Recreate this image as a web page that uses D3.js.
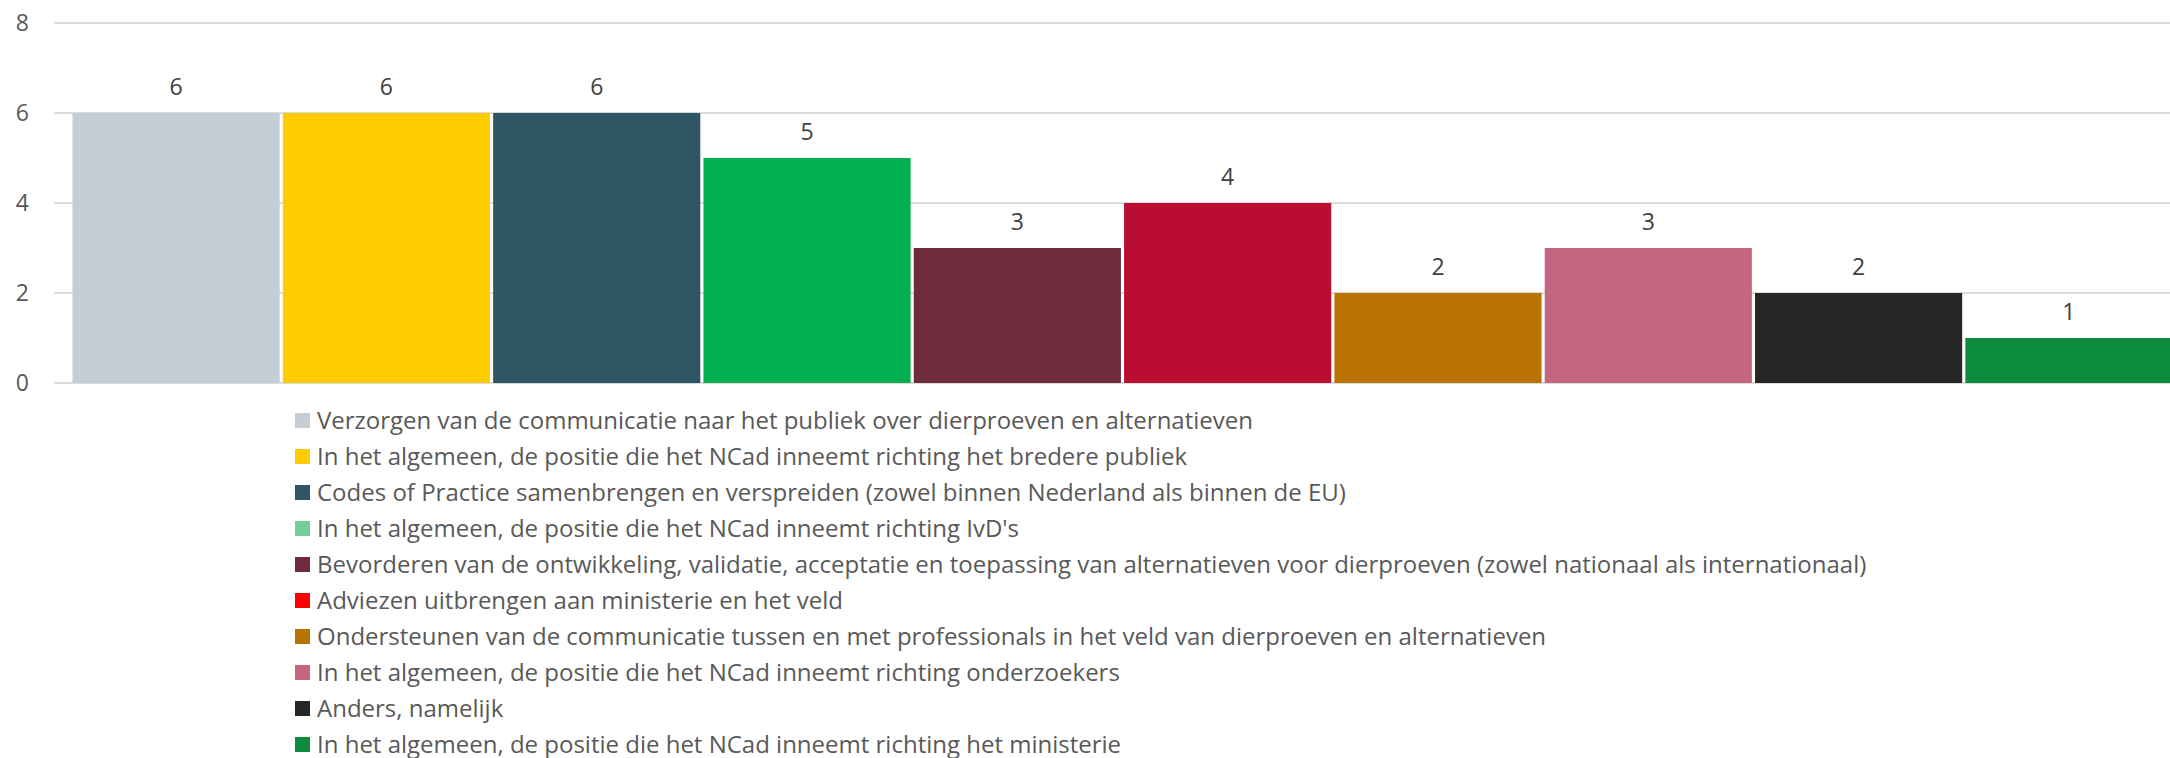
<!DOCTYPE html>
<html>
<head>
<meta charset="utf-8">
<script src="https://cdn.jsdelivr.net/npm/d3@7"></script>
<style>
  body { margin: 0; background: #fff; }
  svg { display: block; font-family: "Open Sans", sans-serif; }
</style>
</head>
<body>
<svg id="chart" width="2170" height="758"></svg>
<script>
// Data
const categories = [
  "Verzorgen van de communicatie naar het publiek over dierproeven en alternatieven",
  "In het algemeen, de positie die het NCad inneemt richting het bredere publiek",
  "Codes of Practice samenbrengen en verspreiden (zowel binnen Nederland als binnen de EU)",
  "In het algemeen, de positie die het NCad inneemt richting IvD's",
  "Bevorderen van de ontwikkeling, validatie, acceptatie en toepassing van alternatieven voor dierproeven (zowel nationaal als internationaal)",
  "Adviezen uitbrengen aan ministerie en het veld",
  "Ondersteunen van de communicatie tussen en met professionals in het veld van dierproeven en alternatieven",
  "In het algemeen, de positie die het NCad inneemt richting onderzoekers",
  "Anders, namelijk",
  "In het algemeen, de positie die het NCad inneemt richting het ministerie"
];
const values = [6, 6, 6, 5, 3, 4, 2, 3, 2, 1];
const barColors = ["#c5cdd7", "#ffcc00", "#2f5664", "#00b050", "#6e2b3e", "#b90e31", "#b87300", "#c4667f", "#262626", "#0c8c3c"];
const legendColors = ["#c5cdd7", "#ffcc00", "#2f5664", "#74cc96", "#6e2b3e", "#ff0000", "#b87300", "#c4667f", "#262626", "#0c8c3c"];
const yTicks = [0, 2, 4, 6, 8];

// Layout
const svg = d3.select("#chart");
const gridLeft = 54;
const gridRight = 2170;

const x = d3.scaleBand()
  .domain(d3.range(categories.length))
  .range([72.5, 2172.5])
  .paddingInner(0.015)
  .paddingOuter(0);

const y = d3.scaleLinear()
  .domain([0, 8])
  .range([383, 23]);

// Gridlines
svg.append("g")
  .selectAll("line")
  .data(yTicks)
  .join("line")
  .attr("x1", gridLeft)
  .attr("x2", gridRight)
  .attr("y1", d => y(d))
  .attr("y2", d => y(d))
  .attr("stroke", "#dcdcdc")
  .attr("stroke-width", 2);

// Y axis labels
svg.append("g")
  .selectAll("text")
  .data(yTicks)
  .join("text")
  .attr("x", 29)
  .attr("y", d => y(d))
  .attr("dy", "0.36em")
  .attr("text-anchor", "end")
  .attr("font-size", 23)
  .attr("fill", "#595959")
  .text(d => d);

// Bars
svg.append("g")
  .selectAll("rect")
  .data(values)
  .join("rect")
  .attr("x", (d, i) => x(i))
  .attr("y", d => y(d))
  .attr("width", x.bandwidth())
  .attr("height", d => y(0) - y(d))
  .attr("fill", (d, i) => barColors[i]);

// Value labels
svg.append("g")
  .selectAll("text")
  .data(values)
  .join("text")
  .attr("x", (d, i) => x(i) + x.bandwidth() / 2)
  .attr("y", d => y(d) - 18)
  .attr("text-anchor", "middle")
  .attr("font-size", 23)
  .attr("fill", "#404040")
  .text(d => d);

// Legend
const legend = svg.append("g")
  .selectAll("g")
  .data(categories)
  .join("g")
  .attr("transform", (d, i) => `translate(295, ${420.5 + i * 36})`);

legend.append("rect")
  .attr("x", 0)
  .attr("y", -7.5)
  .attr("width", 15)
  .attr("height", 15)
  .attr("fill", (d, i) => legendColors[i]);

legend.append("text")
  .attr("x", 22)
  .attr("y", 0)
  .attr("dy", "0.36em")
  .attr("font-size", 24)
  .attr("fill", "#595959")
  .text(d => d);
</script>
</body>
</html>
